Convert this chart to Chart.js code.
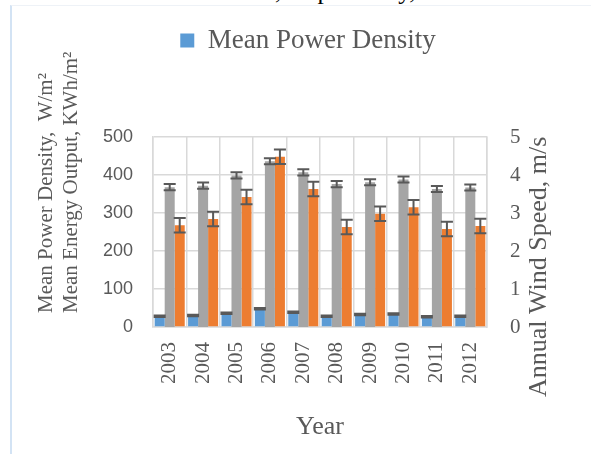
<!DOCTYPE html>
<html>
<head>
<meta charset="utf-8">
<script src="https://cdn.jsdelivr.net/npm/chart.js@4.4.0/dist/chart.umd.min.js"></script>
<style>
  body { margin: 0; background: #fff; }
  #wrap { position: relative; width: 591px; height: 454px; overflow: hidden; }
  #frame { position: absolute; left: 10px; top: 5px; right: 0; bottom: 0; border-left: 2px solid #d3e3f4; border-top: 1px solid #eef2f7; }
  #caption { position: absolute; left: 275px; top: -22px; font: 25.5px/1 "Liberation Serif"; color: #000; white-space: nowrap; }
  canvas { position: absolute; left: 0; top: 0; }
</style>
</head>
<body>
<div id="wrap">
  <div id="frame"></div>
  <div id="caption">, respectively,</div>
  <canvas id="myChart" width="591" height="454"></canvas>
</div>
<script>
// values
const years = ['2003', '2004', '2005', '2006', '2007', '2008', '2009', '2010', '2011', '2012'];
const powerDensity = [28, 30, 36, 48, 39, 28, 33, 34, 27, 28];
const powerDensityErr = [2, 2, 2, 2, 2, 2, 2, 2, 2, 2];
const windSpeed = [3.68, 3.72, 3.99, 4.36, 4.07, 3.76, 3.81, 3.88, 3.63, 3.67];
const windSpeedErr = [0.08, 0.08, 0.08, 0.08, 0.08, 0.08, 0.08, 0.08, 0.08, 0.08];
const energyOutput = [268, 284, 342, 448, 363, 263, 298, 315, 258, 266];
const energyOutputErr = [19, 19, 19, 19, 19, 19, 19, 19, 19, 19];
const leftTicks = [0, 100, 200, 300, 400, 500];
const rightTicks = [0, 1, 2, 3, 4, 5];

const textColor = '#595959';
const gridColor = '#d9d9d9';

const errorBars = {
    id: 'errorBars',
    afterDatasetsDraw(chart) {
        const ctx = chart.ctx;
        chart.data.datasets.forEach((ds, i) => {
            const meta = chart.getDatasetMeta(i);
            const scale = chart.scales[ds.yAxisID];
            ctx.save();
            ctx.strokeStyle = textColor;
            ctx.lineWidth = 2;
            meta.data.forEach((bar, j) => {
                const hi = scale.getPixelForValue(ds.data[j] + ds.errors[j]);
                const lo = scale.getPixelForValue(ds.data[j] - ds.errors[j]);
                const half = bar.width / 2 + 1;
                ctx.beginPath();
                ctx.moveTo(bar.x, hi); ctx.lineTo(bar.x, lo);
                ctx.moveTo(bar.x - half, hi); ctx.lineTo(bar.x + half, hi);
                ctx.moveTo(bar.x - half, lo); ctx.lineTo(bar.x + half, lo);
                ctx.stroke();
            });
            ctx.restore();
        });
    }
};

const axisTitles = {
    id: 'axisTitles',
    afterDraw(chart) {
        const ctx = chart.ctx;
        ctx.save();
        ctx.fillStyle = textColor;
        ctx.textBaseline = 'middle';

        // left title, two lines, reading upwards
        ctx.font = '21px "Liberation Serif"';
        ctx.textAlign = 'left';
        [['Mean Power Density,  W/m²', 46], ['Mean Energy Output, KWh/m²', 71]].forEach(([t, x]) => {
            ctx.save();
            ctx.translate(x, 313);
            ctx.rotate(-Math.PI / 2);
            ctx.fillText(t, 0, 0);
            ctx.restore();
        });

        // right title
        ctx.font = '26px "Liberation Serif"';
        ctx.save();
        ctx.translate(539, 397);
        ctx.rotate(-Math.PI / 2);
        ctx.fillText('Annual Wind Speed, m/s', 0, 0);
        ctx.restore();

        // x title
        ctx.textAlign = 'center';
        ctx.fillText('Year', 320, 427);
        ctx.restore();
    }
};

const ctx = document.getElementById('myChart').getContext('2d');
const myChart = new Chart(ctx, {
    type: 'bar',
    data: {
        labels: years,
        datasets: [{
            label: 'Mean Power Density',
            data: powerDensity,
            errors: powerDensityErr,
            backgroundColor: '#5b9bd5',
            yAxisID: 'y'
        }, {
            label: 'Annual Wind Speed',
            data: windSpeed,
            errors: windSpeedErr,
            backgroundColor: '#a5a5a5',
            yAxisID: 'y1'
        }, {
            label: 'Mean Energy Output',
            data: energyOutput,
            errors: energyOutputErr,
            backgroundColor: '#ed7d31',
            yAxisID: 'y'
        }]
    },
    options: {
        responsive: false,
        animation: false,
        events: [],
        datasets: {
            bar: { categoryPercentage: 0.9, barPercentage: 1.0 }
        },
        layout: { padding: { left: 25, top: 23, right: 0, bottom: 0 } },
        plugins: {
            tooltip: { enabled: false },
            legend: {
                position: 'top',
                labels: {
                    filter: item => item.datasetIndex === 0,
                    color: textColor,
                    font: { family: 'Liberation Serif', size: 27 },
                    boxWidth: 14,
                    boxHeight: 14,
                    padding: 4
                }
            },
            // empty title used as a spacer between legend and plot
            title: {
                display: true,
                text: '',
                weight: 500,
                font: { size: 10 },
                padding: { top: 0, bottom: 61 }
            }
        },
        scales: {
            x: {
                grid: { color: gridColor, lineWidth: 1.5, drawTicks: false },
                border: { color: gridColor, width: 1.5 },
                ticks: {
                    color: textColor,
                    font: { family: 'Liberation Serif', size: 21 },
                    maxRotation: 90,
                    minRotation: 90,
                    padding: 15
                },
                afterFit: s => { s.height = 127; }
            },
            y: {
                position: 'left',
                min: 0,
                max: 500,
                grid: { color: gridColor, lineWidth: 1.5, drawTicks: false },
                border: { color: gridColor, width: 1.5 },
                ticks: {
                    color: textColor,
                    font: { family: 'Liberation Sans', size: 18 },
                    padding: 20
                },
                afterBuildTicks: s => { s.ticks = leftTicks.map(v => ({ value: v })); },
                afterFit: s => { s.width = 128; }
            },
            y1: {
                position: 'right',
                min: 0,
                max: 5,
                grid: { display: false, drawTicks: false },
                border: { color: gridColor, width: 1.5 },
                ticks: {
                    color: textColor,
                    font: { family: 'Liberation Serif', size: 21 },
                    padding: 23
                },
                afterBuildTicks: s => { s.ticks = rightTicks.map(v => ({ value: v })); },
                afterFit: s => { s.width = 104; }
            }
        }
    },
    plugins: [errorBars, axisTitles]
});
</script>
</body>
</html>
